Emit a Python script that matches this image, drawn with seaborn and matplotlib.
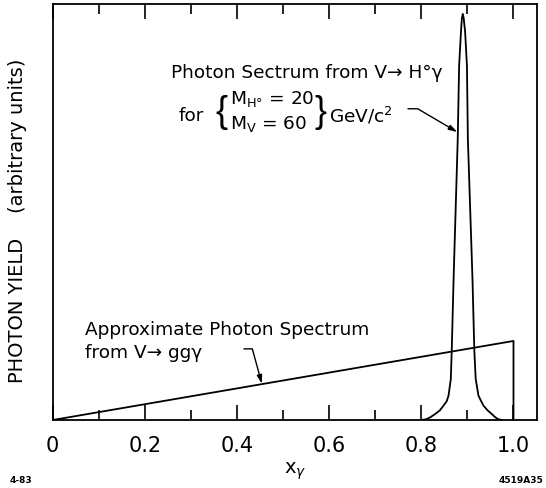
import pandas as pd
import seaborn as sns
import matplotlib.pyplot as plt

# continuum from V -> gg gamma (triangle ending at x = 1)
tri_x = [0.0, 1.0, 1.0]
tri_y = [0.0, 0.19, 0.0]

# monochromatic line from V -> H gamma
peak_x = [0.800, 0.811, 0.820, 0.830, 0.840, 0.848, 0.855, 0.859, 0.864, 0.866,
          0.870, 0.879, 0.882, 0.886, 0.888, 0.890, 0.892, 0.895, 0.899, 0.901,
          0.911, 0.915, 0.918, 0.924, 0.930, 0.935, 0.944, 0.953, 0.960, 0.967, 0.975]
peak_y = [0.0, 0.002, 0.007, 0.0144, 0.023, 0.0344, 0.045, 0.0584, 0.0986, 0.167,
          0.339, 0.675, 0.851, 0.933, 0.965, 0.976, 0.965, 0.933, 0.851, 0.675,
          0.339, 0.167, 0.0986, 0.0584, 0.045, 0.0344, 0.023, 0.0144, 0.007, 0.002, 0.0]

major_ticks = [0.0, 0.2, 0.4, 0.6, 0.8, 1.0]
major_labels = ["0", "0.2", "0.4", "0.6", "0.8", "1.0"]
minor_ticks = [0.1, 0.3, 0.5, 0.7, 0.9]

sns.set_style("white")
plt.rcParams['font.family'] = ['DejaVu Sans']
plt.rcParams['mathtext.fontset'] = 'dejavusans'
plt.rcParams['text.color'] = 'black'
plt.rcParams['axes.labelcolor'] = 'black'
plt.rcParams['xtick.color'] = 'black'

fig = plt.figure(figsize=(5.46, 4.89), dpi=100)
ax = fig.add_axes([0.0965, 0.139, 0.887, 0.851])

tri = pd.DataFrame({"x": tri_x, "y": tri_y})
peak = pd.DataFrame({"x": peak_x, "y": peak_y})
sns.lineplot(data=tri, x="x", y="y", sort=False, estimator=None, color="black", lw=1.3, ax=ax)
sns.lineplot(data=peak, x="x", y="y", sort=False, estimator=None, color="black", lw=1.3, ax=ax)

ax.set_xlim(0, 1.051)
ax.set_ylim(0, 1.0)
ax.set_xticks(major_ticks)
ax.set_xticklabels(major_labels, fontsize=15)
ax.set_xticks(minor_ticks, minor=True)
ax.set_yticks([])
ax.tick_params(axis="x", which="both", direction="in", top=True, bottom=True,
               color="black", width=1.2, pad=11)
ax.tick_params(axis="x", which="major", length=10.5)
ax.tick_params(axis="x", which="minor", length=7)
for s in ax.spines.values():
    s.set_color("black")
    s.set_linewidth(1.3)

ax.set_xlabel(r"x$_\gamma$", fontsize=14)
ax.xaxis.set_label_coords(0.5, -0.095)
ax.set_ylabel("PHOTON YIELD    (arbitrary units)", fontsize=14)
ax.yaxis.set_label_coords(-0.053, 0.48)

fs = 13.3
ax.text(0.847, 0.825, "Photon Sectrum from V\u2192 H°\u03b3", fontsize=fs, va="baseline", ha="right")
ax.text(0.274, 0.733, "for", fontsize=fs, va="center")
ax.text(0.366, 0.742, "{", fontsize=26, va="center", ha="center", family="Liberation Sans")
ax.text(0.385, 0.773, r"M$_{\mathregular{H°}}$ = 20", fontsize=fs, va="center")
ax.text(0.385, 0.714, r"M$_{\mathregular{V}}$ = 60", fontsize=fs, va="center")
ax.text(0.581, 0.742, "}", fontsize=26, va="center", ha="center", family="Liberation Sans")
ax.text(0.600, 0.733, r"GeV/c$^{\mathregular{2}}$", fontsize=fs, va="center")
ax.annotate("", xy=(0.878, 0.692), xytext=(0.771, 0.748),
            arrowprops=dict(arrowstyle="-|>,head_length=0.5,head_width=0.15", color="black", lw=1.0,
                            shrinkA=0, shrinkB=0,
                            connectionstyle="angle,angleA=0,angleB=149.5,rad=0"))

ax.text(0.070, 0.219, "Approximate Photon Spectrum", fontsize=fs, va="center")
ax.text(0.070, 0.163, "from V\u2192 gg\u03b3", fontsize=fs, va="center")
ax.annotate("", xy=(0.454, 0.087), xytext=(0.415, 0.171),
            arrowprops=dict(arrowstyle="-|>,head_length=0.5,head_width=0.15", color="black", lw=1.0,
                            shrinkA=0, shrinkB=0,
                            connectionstyle="angle,angleA=0,angleB=105.3,rad=0"))

fig.text(0.018, 0.018, "4-83", fontsize=6.5, fontweight="bold", va="center")
fig.text(0.995, 0.018, "4519A35", fontsize=6.5, fontweight="bold", va="center", ha="right")

fig.savefig("out.png", dpi=100)
